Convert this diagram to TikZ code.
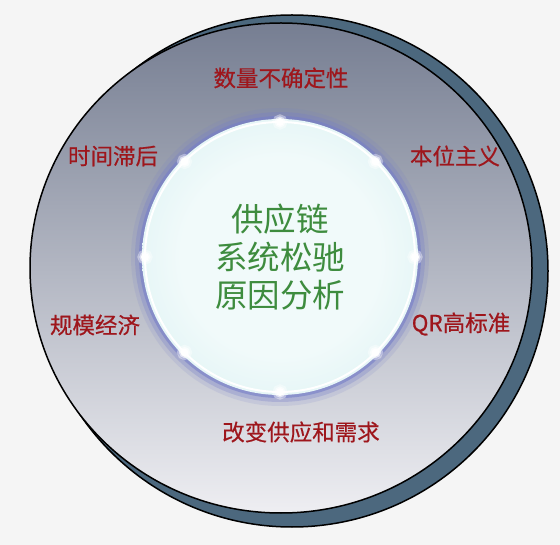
\documentclass[tikz,border=0pt]{standalone}
\usepackage{xcolor}
\usepackage{fontspec}
\setmainfont{Noto Sans CJK SC}
\newfontfamily\causefont[FakeBold=0.5]{Noto Sans CJK SC}

\definecolor{bgcol}{RGB}{245,245,245}
\definecolor{shadowcol}{RGB}{76,104,126}
\definecolor{disktop}{RGB}{118,126,146}
\definecolor{diskmid}{RGB}{168,172,186}
\definecolor{diskbot}{RGB}{238,238,242}
\definecolor{ringblue}{RGB}{118,126,200}
\definecolor{glowwhite}{RGB}{241,250,250}
\definecolor{glowcyan}{RGB}{212,239,241}
\definecolor{glowedge}{RGB}{190,222,236}
\definecolor{glowlav}{RGB}{152,160,215}
\definecolor{causered}{RGB}{158,22,28}
\definecolor{centregreen}{RGB}{62,140,62}

\pgfdeclareradialshading{diskglow}{\pgfpoint{0bp}{0bp}}{color(0bp)=(glowwhite); color(18bp)=(glowwhite); color(38bp)=(glowcyan); color(43bp)=(glowedge); color(47bp)=(glowlav); color(50bp)=(ringblue)}

\tikzset{
	cause/.style={font=\causefont\fontsize{22.5}{26}\selectfont, text=causered, inner sep=0pt},
	lamp/.style={circle, fill=white, inner sep=0pt, minimum size=8pt,
		preaction={draw=white, draw opacity=0.4, line width=7pt},
		postaction={draw=white, draw opacity=0.6, line width=3pt}}
}

\begin{document}
\begin{tikzpicture}[x=1pt,y=-1pt]
	% Draw the background
	\fill[bgcol] (0,0) rectangle (560,545);
	\useasboundingbox (0,0) rectangle (560,545);
	% Draw the shadow and the big disk
	\filldraw[fill=shadowcol, draw=black, line width=1.5pt] (292,271) circle (256pt);
	\shadedraw[top color=disktop, middle color=diskmid, bottom color=diskbot, draw=black, line width=1.5pt] (281,268) ellipse (251pt and 245pt);
	% Draw the ring
	\coordinate (ring) at (280,257);
	\fill[ringblue, opacity=0.15] (ring) circle (149pt);
	\fill[ringblue, opacity=0.3] (ring) circle (145pt);
	\fill[ringblue, opacity=0.6] (ring) circle (141pt);
	\shade[shading=diskglow] (ring) circle (138pt);
	\draw[white, line width=2pt] (ring) circle (135pt);
	% Draw the lights on the ring
	\foreach \i in {1,...,8}
		\node[lamp] (dot\i) at ([shift={(\i*45:135pt)}]ring) {};
	% Label the centre
	\node[align=center, font=\fontsize{32.5}{38}\selectfont, text=centregreen] (centre) at (ring) {供应链\\系统松驰\\原因分析};
	% Label the causes
	\node[cause] (quantity) at (281,78) {数量不确定性};
	\node[cause] (delay) at (113,156) {时间滞后};
	\node[cause] (selfish) at (455,156) {本位主义};
	\node[cause] (scale) at (95,325) {规模经济};
	\node[cause] (qr) at (461,324) {QR高标准};
	\node[cause] (change) at (301,432) {改变供应和需求};
\end{tikzpicture}
\end{document}
